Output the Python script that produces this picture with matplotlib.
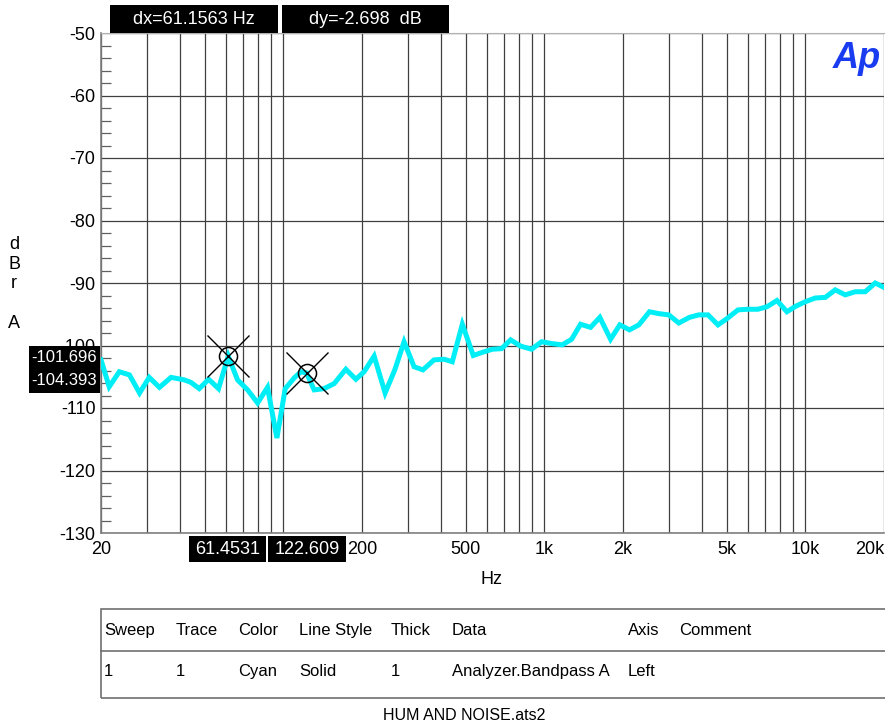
import matplotlib
matplotlib.use("Agg")
import matplotlib.pyplot as plt
from matplotlib.ticker import FixedLocator, NullFormatter, LogLocator

plt.rcParams['font.family'] = ['Liberation Sans', 'DejaVu Sans']
plt.rcParams['axes.unicode_minus'] = False

# sweep data (Hz, dBr A)
freq = [20, 21.5, 23.5, 25.7, 28.1, 30.6, 33.5, 37.1, 41.7, 44.2,
        47.6, 51.7, 56.4, 61.45, 66.7, 72.9, 79.6, 86.9, 94.4, 101.6,
        109.9, 116.6, 122.6, 131.1, 143.2, 156.4, 173.4, 189.4, 203.8, 222.6,
        245.2, 267.1, 289.9, 316.6, 342.6, 377.6, 412.4, 443.6, 484.6, 533.8,
        577.8, 631, 685.6, 742, 810.6, 893, 975, 1071, 1170, 1271,
        1375, 1502, 1630, 1792, 1944, 2118, 2300, 2526, 2742, 2994,
        3272, 3594, 3900, 4234, 4624, 5006, 5516, 6024, 6578, 7122,
        7778, 8492, 9192, 9986, 10910, 11914, 13010, 14210, 15518, 16944,
        18506, 20000]
level = [-102.3, -106.6, -104.2, -104.7, -107.6, -105.1, -106.7, -105.1, -105.5, -105.9,
         -106.9, -105.4, -106.9, -101.696, -105.5, -107.1, -109.2, -106.7, -114.8, -106.9,
         -105.2, -104.2, -104.393, -107.1, -106.9, -106.1, -103.8, -105.4, -104.2, -101.7,
         -107.6, -103.9, -99.4, -103.4, -103.9, -102.3, -102.2, -102.6, -96.6, -101.6,
         -101.1, -100.6, -100.5, -99.1, -100.1, -100.6, -99.4, -99.7, -99.9, -99.0,
         -96.6, -97.1, -95.5, -99.0, -96.7, -97.5, -96.7, -94.6, -94.9, -95.1,
         -96.4, -95.5, -95.1, -95.1, -96.7, -95.7, -94.3, -94.2, -94.2, -93.8,
         -92.8, -94.6, -93.7, -93.0, -92.4, -92.3, -91.1, -91.9, -91.4, -91.4,
         -90.0, -90.7]

# cursors
cursor_x = [61.4531, 122.609]
cursor_y = [-101.696, -104.393]

xtick_vals = [20, 200, 500, 1000, 2000, 5000, 10000, 20000]
xtick_labels = ['20', '200', '500', '1k', '2k', '5k', '10k', '20k']

table_header = ['Sweep', 'Trace', 'Color', 'Line Style', 'Thick', 'Data', 'Axis', 'Comment']
table_row = ['1', '1', 'Cyan', 'Solid', '1', 'Analyzer.Bandpass A', 'Left', '']
table_cols_px = [104, 176, 238, 299, 391, 452, 628, 679]

W, H = 885, 726
fig = plt.figure(figsize=(W / 100, H / 100), dpi=100)

def fx(px):
    return px / W

def fy(py):
    return 1 - py / H

ax = fig.add_axes([fx(101), fy(533), fx(884) - fx(101), fy(33) - fy(533)])
ax.set_xscale('log')
ax.set_xlim(20, 20000)
ax.set_ylim(-130, -50)

# grid
ax.xaxis.set_major_locator(FixedLocator(xtick_vals))
ax.set_xticklabels(xtick_labels)
ax.xaxis.set_minor_locator(LogLocator(base=10, subs=range(1, 10), numticks=20))
ax.xaxis.set_minor_formatter(NullFormatter())
ax.grid(True, which='both', axis='x', color='#404040', lw=0.9)
ax.set_yticks(range(-130, -49, 10))
ax.set_yticks(range(-130, -49, 2), minor=True)
ax.grid(True, which='major', axis='y', color='#404040', lw=0.9)
ax.tick_params(axis='x', which='both', length=0, labelsize=13, pad=6)
ax.tick_params(axis='y', which='major', direction='in', length=0, labelsize=13, pad=4)
ax.tick_params(axis='y', which='minor', direction='in', length=7, color='#606060', width=0.9)
ax.get_xticklabels()[-1].set_ha('right')

for s in ['left', 'bottom']:
    ax.spines[s].set_color('#808080')
    ax.spines[s].set_linewidth(1.2)
ax.spines['top'].set_color('#b0b0b0')
ax.spines['right'].set_visible(False)

# trace
ax.plot(freq, level, color='#00eef5', lw=3.6, solid_joinstyle='miter', zorder=3)

# cursor markers
ax.plot(cursor_x, cursor_y, ls='none', marker='o', ms=13, mfc='none', mec='black', mew=1.1, zorder=4)
ax.plot(cursor_x, cursor_y, ls='none', marker='x', ms=30, mec='black', mew=1.0, zorder=4)

# y label
fig.text(fx(14), fy(284), 'd\nB\nr\n\nA', ha='center', va='center', fontsize=13, linespacing=1.2)
fig.text(fx(492), fy(579), 'Hz', ha='center', va='center', fontsize=13)

def box(x0, y0, x1, y1, txt, fs=13):
    fig.patches.append(plt.Rectangle((fx(x0), fy(y1)), fx(x1) - fx(x0), fy(y0) - fy(y1),
                                     transform=fig.transFigure, facecolor='black',
                                     edgecolor='none', zorder=10))
    fig.text(fx((x0 + x1) / 2), fy((y0 + y1) / 2), txt, color='white', ha='center',
             va='center', fontsize=fs, zorder=11)

box(110, 5, 278, 33, 'dx=61.1563 Hz')
box(282, 5, 449, 33, 'dy=-2.698  dB')
box(29, 346, 100, 370, '-101.696', fs=12)
box(29, 368, 100, 393, '-104.393', fs=12)
box(189, 536, 266, 562, '61.4531')
box(268, 536, 346, 562, '122.609')

# Ap logo
fig.text(fx(857), fy(58), 'Ap', color='#1a3cf0', fontsize=26, fontweight='bold',
         style='italic', ha='center', va='center')

# legend table
fig.patches.append(plt.Rectangle((fx(101), fy(698)), fx(900) - fx(101), fy(609) - fy(698),
                                 transform=fig.transFigure, facecolor='none',
                                 edgecolor='#707070', lw=1.2))
fig.add_artist(plt.Line2D([fx(101), fx(885)], [fy(651), fy(651)], color='#707070', lw=1.2))
for x, h, r in zip(table_cols_px, table_header, table_row):
    fig.text(fx(x), fy(635), h, ha='left', va='baseline', fontsize=12)
    fig.text(fx(x), fy(676), r, ha='left', va='baseline', fontsize=12)

fig.text(fx(464), fy(716), 'HUM AND NOISE.ats2', ha='center', va='center', fontsize=11.5)

fig.savefig('out.png', dpi=100)
